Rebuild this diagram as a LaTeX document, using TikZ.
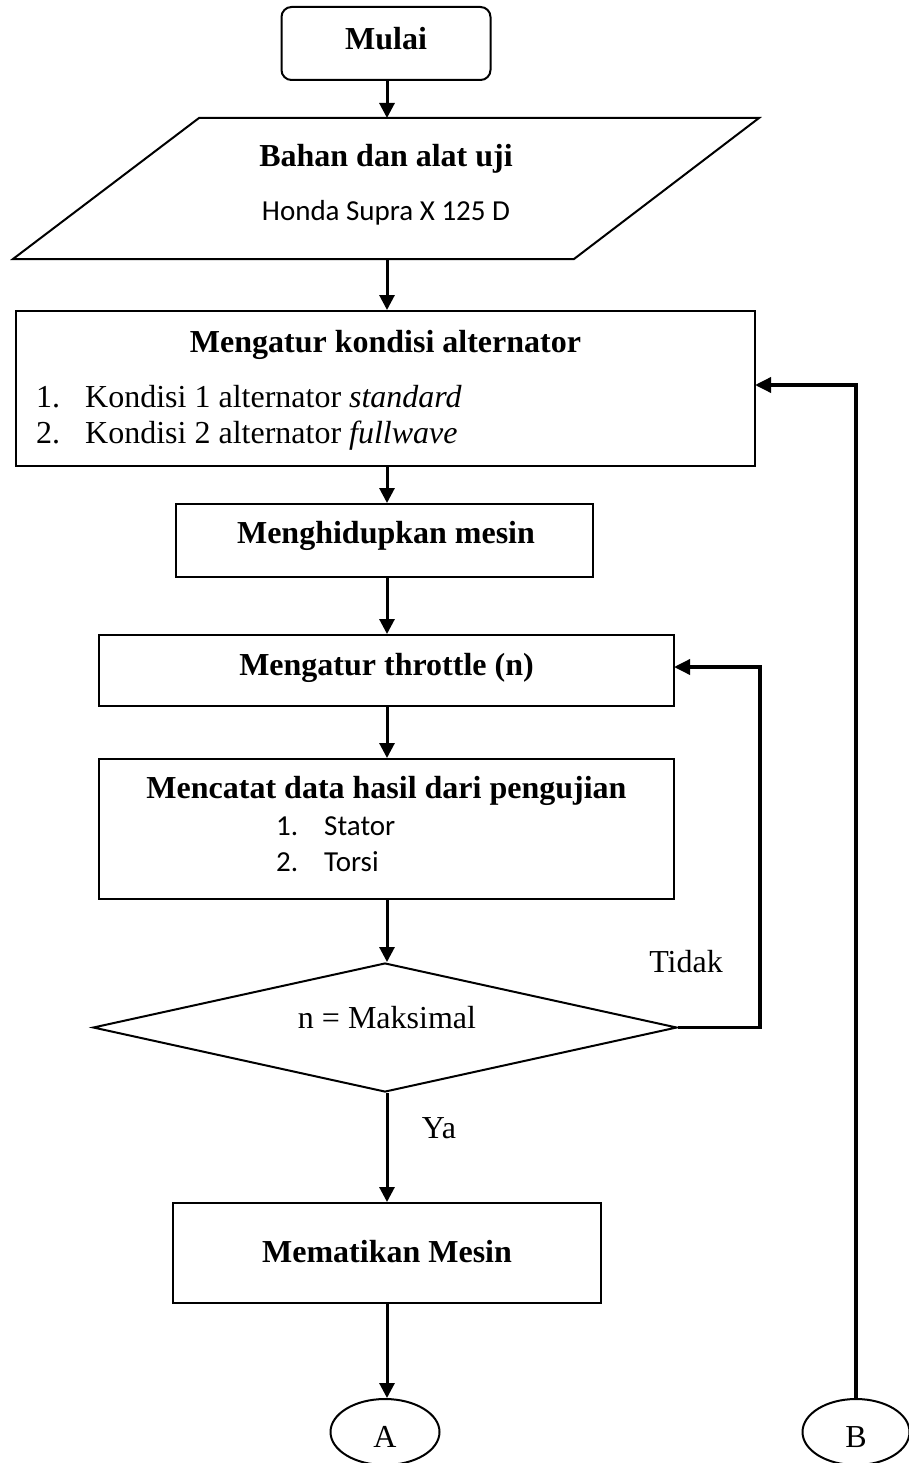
\documentclass[tikz,border=0pt]{standalone}
\usepackage{fontspec}
\setmainfont{Liberation Serif}
\newfontfamily\calfont{Carlito}
\usetikzlibrary{arrows.meta,shapes.geometric}
\begin{document}
\begin{tikzpicture}[x=1pt,y=-1pt,
  procbox/.style={draw,line width=2pt,inner sep=0pt},
  arr/.style={line width=3pt,-{Triangle[length=15pt,width=15pt]}},
  backloop/.style={line width=3.5pt,-{Triangle[length=16pt,width=15pt]}},
  ttl/.style={font=\fontsize{32}{38}\selectfont\bfseries,anchor=base,inner sep=0pt},
  txt/.style={font=\fontsize{32}{38}\selectfont,anchor=base,inner sep=0pt},
  ctxt/.style={font=\calfont\fontsize{29}{35}\selectfont,anchor=base,inner sep=0pt},
  ltxt/.style={font=\fontsize{32}{38}\selectfont,anchor=base west,inner sep=0pt},
  lctxt/.style={font=\calfont\fontsize{29}{35}\selectfont,anchor=base west,inner sep=0pt}]
\useasboundingbox (0,0) rectangle (909,1463);

% Start
\node[procbox,rounded corners=10pt,minimum width=209pt,minimum height=73pt] (start) at (386,43.5) {};
\node[ttl] (startT) at (386,50) {Mulai};

% Input parallelogram
\coordinate (pTL) at (199,118);
\coordinate (pTR) at (759,118);
\coordinate (pBR) at (574,259);
\coordinate (pBL) at (13,259);
\coordinate (pin) at (387,118);
\coordinate (pout) at (387,259);
\draw[line width=2pt] (pTL) -- (pTR) -- (pBR) -- (pBL) -- cycle;
\node[ttl] (inT) at (386,167) {Bahan dan alat uji};
\node[ctxt] (inS) at (386,221) {Honda Supra X 125 D};

% Box 1
\node[procbox,minimum width=739pt,minimum height=155pt] (b1) at (385.5,388.5) {};
\node[ttl] (b1T) at (385.5,352) {Mengatur kondisi alternator};
\node[ltxt] (b1n1) at (36,407) {1.};
\node[ltxt] (b1l1) at (85,407) {Kondisi 1 alternator \textit{standard}};
\node[ltxt] (b1n2) at (36,443) {2.};
\node[ltxt] (b1l2) at (85,443) {Kondisi 2 alternator \textit{fullwave}};
\coordinate (b1in) at (755,385);

% Box 2
\node[procbox,minimum width=417pt,minimum height=73pt] (b2) at (384.5,540.5) {};
\node[ttl] (b2T) at (386,543) {Menghidupkan mesin};

% Box 3
\node[procbox,minimum width=575pt,minimum height=71pt] (b3) at (386.5,670.5) {};
\node[ttl] (b3T) at (386.5,675) {Mengatur throttle (n)};
\coordinate (b3in) at (674,667);

% Box 4
\node[procbox,minimum width=575pt,minimum height=140pt] (b4) at (386.5,829) {};
\node[ttl] (b4T) at (386.5,798) {Mencatat data hasil dari pengujian};
\node[lctxt] (b4n1) at (276,835) {1.};
\node[lctxt] (b4l1) at (324,835) {Stator};
\node[lctxt] (b4n2) at (276,871) {2.};
\node[lctxt] (b4l2) at (324,871) {Torsi};

% Decision
\node[draw,diamond,line width=2pt,inner sep=0pt,minimum width=584pt,minimum height=129pt] (dec) at (385,1027.5) {};
\node[txt] (decT) at (387,1028) {n = Maksimal};
\node[txt] (tidak) at (686,972) {Tidak};
\node[txt] (ya) at (439,1138) {Ya};

% Box 5
\node[procbox,minimum width=428pt,minimum height=100pt] (b5) at (387,1253) {};
\node[ttl] (b5T) at (387,1262) {Mematikan Mesin};

% Connectors A, B
\node[draw,ellipse,line width=2pt,inner sep=0pt,minimum width=109pt,minimum height=66pt] (A) at (385,1432) {};
\node[txt] (AT) at (385,1447) {A};
\node[draw,ellipse,line width=2pt,inner sep=0pt,minimum width=107pt,minimum height=66pt] (B) at (856,1432) {};
\node[txt] (BT) at (856,1447) {B};

% Arrows
\draw[arr] (start.south -| pin) -- (pin);
\draw[arr] (pout) -- (pout |- b1.north);
\draw[arr] (pout |- b1.south) -- (pout |- b2.north);
\draw[arr] (pout |- b2.south) -- (pout |- b3.north);
\draw[arr] (pout |- b3.south) -- (pout |- b4.north);
\draw[arr] (pout |- b4.south) -- (pout |- dec.north);
\draw[arr] (pout |- dec.south) -- (pout |- b5.north);
\draw[arr] (pout |- b5.south) -- (pout |- A.north);

% Loops
\draw[backloop] (dec.east) -- ++(82,0) |- (b3in);
\draw[backloop] (B.north) |- (b1in);
\end{tikzpicture}
\end{document}
